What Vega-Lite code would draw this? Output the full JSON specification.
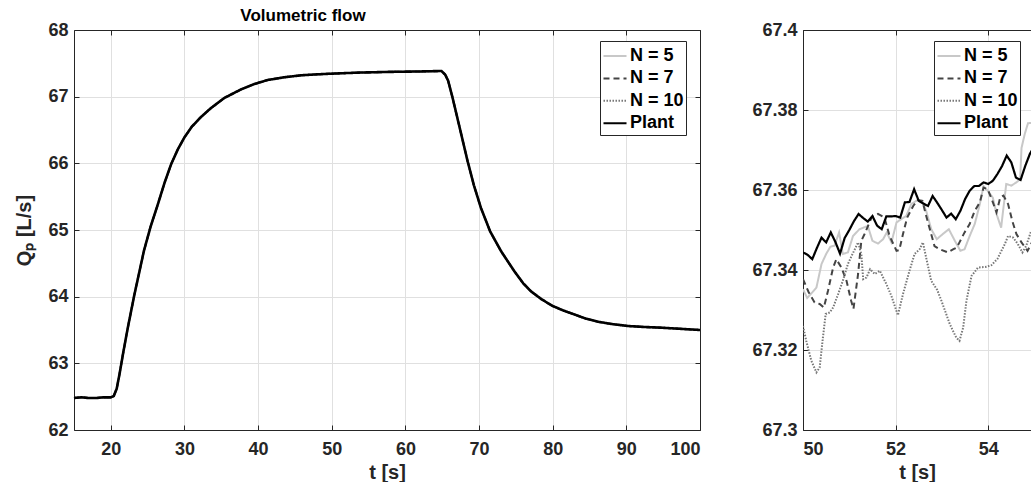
{
  "$schema": "https://vega.github.io/schema/vega-lite/v6.json",
  "background": "white",
  "padding": {"left": 14, "top": 7, "right": 0, "bottom": 0},
  "spacing": 45,
  "config": {
    "font": "Liberation Sans",
    "view": {"stroke": null},
    "axis": {
      "labelFont": "Liberation Sans", "labelFontSize": 18, "labelFontWeight": "bold", "labelColor": "#262626",
      "titleFont": "Liberation Sans", "titleFontSize": 20, "titleFontWeight": "bold", "titleColor": "#262626",
      "domainColor": "#262626", "domainWidth": 1, "tickColor": "#262626", "tickWidth": 1, "tickSize": -5,
      "gridColor": "#e0e0e0", "gridWidth": 1
    },
    "legend": {
      "symbolType": "stroke", "symbolSize": 530, "symbolStrokeWidth": 2, "padding": 2, "rowPadding": 0.4,
      "labelOffset": 2, "fillColor": "white", "strokeColor": "#262626", "labelFont": "Liberation Sans",
      "labelFontSize": 18, "labelFontWeight": "bold", "labelColor": "#000000", "cornerRadius": 0
    },
    "title": {"font": "Liberation Sans", "fontSize": 17, "fontWeight": "bold", "color": "#000000"}
  },
  "resolve": {"legend": {"color": "independent", "strokeDash": "independent"}},
  "datasets": {
    "full": [
      {"t": 15, "plant": 62.48, "n5": 62.48, "n7": 62.48, "n10": 62.48},
      {"t": 16, "plant": 62.49, "n5": 62.49, "n7": 62.49, "n10": 62.49},
      {"t": 17, "plant": 62.48, "n5": 62.48, "n7": 62.48, "n10": 62.48},
      {"t": 18, "plant": 62.48, "n5": 62.48, "n7": 62.48, "n10": 62.48},
      {"t": 19, "plant": 62.49, "n5": 62.49, "n7": 62.49, "n10": 62.49},
      {"t": 20, "plant": 62.49, "n5": 62.49, "n7": 62.49, "n10": 62.49},
      {"t": 20.4, "plant": 62.51, "n5": 62.51, "n7": 62.51, "n10": 62.51},
      {"t": 20.8, "plant": 62.62, "n5": 62.62, "n7": 62.62, "n10": 62.62},
      {"t": 21.2, "plant": 62.85, "n5": 62.85, "n7": 62.85, "n10": 62.85},
      {"t": 21.7, "plant": 63.17, "n5": 63.17, "n7": 63.17, "n10": 63.17},
      {"t": 22.3, "plant": 63.53, "n5": 63.53, "n7": 63.53, "n10": 63.53},
      {"t": 23.2, "plant": 64.03, "n5": 64.03, "n7": 64.03, "n10": 64.03},
      {"t": 24.5, "plant": 64.69, "n5": 64.69, "n7": 64.69, "n10": 64.69},
      {"t": 25.4, "plant": 65.05, "n5": 65.05, "n7": 65.05, "n10": 65.05},
      {"t": 26.4, "plant": 65.39, "n5": 65.39, "n7": 65.39, "n10": 65.39},
      {"t": 27.3, "plant": 65.71, "n5": 65.71, "n7": 65.71, "n10": 65.71},
      {"t": 28.2, "plant": 65.99, "n5": 65.99, "n7": 65.99, "n10": 65.99},
      {"t": 29.1, "plant": 66.21, "n5": 66.21, "n7": 66.21, "n10": 66.21},
      {"t": 30, "plant": 66.39, "n5": 66.39, "n7": 66.39, "n10": 66.39},
      {"t": 31, "plant": 66.55, "n5": 66.55, "n7": 66.55, "n10": 66.55},
      {"t": 32.2, "plant": 66.69, "n5": 66.69, "n7": 66.69, "n10": 66.69},
      {"t": 33.5, "plant": 66.82, "n5": 66.82, "n7": 66.82, "n10": 66.82},
      {"t": 35.4, "plant": 66.98, "n5": 66.98, "n7": 66.98, "n10": 66.98},
      {"t": 37.7, "plant": 67.11, "n5": 67.11, "n7": 67.11, "n10": 67.11},
      {"t": 39.5, "plant": 67.19, "n5": 67.19, "n7": 67.19, "n10": 67.19},
      {"t": 41.3, "plant": 67.25, "n5": 67.25, "n7": 67.25, "n10": 67.25},
      {"t": 43.5, "plant": 67.29, "n5": 67.29, "n7": 67.29, "n10": 67.29},
      {"t": 45.8, "plant": 67.32, "n5": 67.32, "n7": 67.32, "n10": 67.32},
      {"t": 48, "plant": 67.335, "n5": 67.335, "n7": 67.335, "n10": 67.335},
      {"t": 50, "plant": 67.345, "n5": 67.345, "n7": 67.345, "n10": 67.345},
      {"t": 52, "plant": 67.354, "n5": 67.354, "n7": 67.354, "n10": 67.354},
      {"t": 54, "plant": 67.362, "n5": 67.362, "n7": 67.362, "n10": 67.362},
      {"t": 56, "plant": 67.367, "n5": 67.367, "n7": 67.367, "n10": 67.367},
      {"t": 58, "plant": 67.372, "n5": 67.372, "n7": 67.372, "n10": 67.372},
      {"t": 60, "plant": 67.375, "n5": 67.375, "n7": 67.375, "n10": 67.375},
      {"t": 62, "plant": 67.378, "n5": 67.378, "n7": 67.378, "n10": 67.378},
      {"t": 63.5, "plant": 67.382, "n5": 67.382, "n7": 67.382, "n10": 67.382},
      {"t": 64.9, "plant": 67.385, "n5": 67.385, "n7": 67.385, "n10": 67.385},
      {"t": 65.4, "plant": 67.33, "n5": 67.33, "n7": 67.33, "n10": 67.33},
      {"t": 65.8, "plant": 67.24, "n5": 67.24, "n7": 67.24, "n10": 67.24},
      {"t": 66.4, "plant": 66.985, "n5": 66.985, "n7": 66.985, "n10": 66.985},
      {"t": 67.4, "plant": 66.52, "n5": 66.52, "n7": 66.52, "n10": 66.52},
      {"t": 68.45, "plant": 66.03, "n5": 66.03, "n7": 66.03, "n10": 66.03},
      {"t": 69.3, "plant": 65.67, "n5": 65.67, "n7": 65.67, "n10": 65.67},
      {"t": 70.26, "plant": 65.33, "n5": 65.33, "n7": 65.33, "n10": 65.33},
      {"t": 71.5, "plant": 64.98, "n5": 64.98, "n7": 64.98, "n10": 64.98},
      {"t": 73, "plant": 64.68, "n5": 64.68, "n7": 64.68, "n10": 64.68},
      {"t": 74.8, "plant": 64.38, "n5": 64.38, "n7": 64.38, "n10": 64.38},
      {"t": 76, "plant": 64.2, "n5": 64.2, "n7": 64.2, "n10": 64.2},
      {"t": 77.05, "plant": 64.08, "n5": 64.08, "n7": 64.08, "n10": 64.08},
      {"t": 78.5, "plant": 63.96, "n5": 63.96, "n7": 63.96, "n10": 63.96},
      {"t": 80, "plant": 63.86, "n5": 63.86, "n7": 63.86, "n10": 63.86},
      {"t": 81.5, "plant": 63.79, "n5": 63.79, "n7": 63.79, "n10": 63.79},
      {"t": 82.9, "plant": 63.735, "n5": 63.735, "n7": 63.735, "n10": 63.735},
      {"t": 84.5, "plant": 63.67, "n5": 63.67, "n7": 63.67, "n10": 63.67},
      {"t": 86.1, "plant": 63.625, "n5": 63.625, "n7": 63.625, "n10": 63.625},
      {"t": 88, "plant": 63.59, "n5": 63.59, "n7": 63.59, "n10": 63.59},
      {"t": 90.2, "plant": 63.56, "n5": 63.56, "n7": 63.56, "n10": 63.56},
      {"t": 92.5, "plant": 63.545, "n5": 63.545, "n7": 63.545, "n10": 63.545},
      {"t": 94.7, "plant": 63.535, "n5": 63.535, "n7": 63.535, "n10": 63.535},
      {"t": 97, "plant": 63.52, "n5": 63.52, "n7": 63.52, "n10": 63.52},
      {"t": 100, "plant": 63.5, "n5": 63.5, "n7": 63.5, "n10": 63.5}
    ],
    "zoom": [
      {"series": "plant", "t": 50.0, "Q": 67.3444}, {"series": "plant", "t": 50.1, "Q": 67.3438},
      {"series": "plant", "t": 50.2, "Q": 67.3427}, {"series": "plant", "t": 50.3, "Q": 67.3455},
      {"series": "plant", "t": 50.4, "Q": 67.3481}, {"series": "plant", "t": 50.5, "Q": 67.3469},
      {"series": "plant", "t": 50.6, "Q": 67.3494}, {"series": "plant", "t": 50.7, "Q": 67.347},
      {"series": "plant", "t": 50.8, "Q": 67.3441}, {"series": "plant", "t": 50.9, "Q": 67.348},
      {"series": "plant", "t": 51.0, "Q": 67.35}, {"series": "plant", "t": 51.1, "Q": 67.3522},
      {"series": "plant", "t": 51.2, "Q": 67.354}, {"series": "plant", "t": 51.3, "Q": 67.353},
      {"series": "plant", "t": 51.4, "Q": 67.3521}, {"series": "plant", "t": 51.5, "Q": 67.3535},
      {"series": "plant", "t": 51.6, "Q": 67.3511}, {"series": "plant", "t": 51.7, "Q": 67.3502},
      {"series": "plant", "t": 51.8, "Q": 67.3534}, {"series": "plant", "t": 51.9, "Q": 67.3534},
      {"series": "plant", "t": 52.0, "Q": 67.3535}, {"series": "plant", "t": 52.1, "Q": 67.3531},
      {"series": "plant", "t": 52.2, "Q": 67.3569}, {"series": "plant", "t": 52.3, "Q": 67.357},
      {"series": "plant", "t": 52.4, "Q": 67.3602}, {"series": "plant", "t": 52.5, "Q": 67.3573},
      {"series": "plant", "t": 52.6, "Q": 67.3566}, {"series": "plant", "t": 52.7, "Q": 67.356},
      {"series": "plant", "t": 52.8, "Q": 67.3585}, {"series": "plant", "t": 52.9, "Q": 67.3568},
      {"series": "plant", "t": 53.0, "Q": 67.355}, {"series": "plant", "t": 53.1, "Q": 67.3531},
      {"series": "plant", "t": 53.2, "Q": 67.3541}, {"series": "plant", "t": 53.3, "Q": 67.3527},
      {"series": "plant", "t": 53.4, "Q": 67.3548}, {"series": "plant", "t": 53.5, "Q": 67.3577},
      {"series": "plant", "t": 53.6, "Q": 67.3598}, {"series": "plant", "t": 53.7, "Q": 67.361},
      {"series": "plant", "t": 53.8, "Q": 67.361}, {"series": "plant", "t": 53.9, "Q": 67.3619},
      {"series": "plant", "t": 54.0, "Q": 67.3615}, {"series": "plant", "t": 54.1, "Q": 67.3623},
      {"series": "plant", "t": 54.2, "Q": 67.364}, {"series": "plant", "t": 54.3, "Q": 67.366},
      {"series": "plant", "t": 54.4, "Q": 67.3686}, {"series": "plant", "t": 54.5, "Q": 67.3669},
      {"series": "plant", "t": 54.6, "Q": 67.3631}, {"series": "plant", "t": 54.7, "Q": 67.3625},
      {"series": "plant", "t": 54.8, "Q": 67.366}, {"series": "plant", "t": 54.9, "Q": 67.369},
      {"series": "plant", "t": 54.95, "Q": 67.37},

      {"series": "n5", "t": 50.0, "Q": 67.3352}, {"series": "n5", "t": 50.09, "Q": 67.333},
      {"series": "n5", "t": 50.2, "Q": 67.3344}, {"series": "n5", "t": 50.29, "Q": 67.3356},
      {"series": "n5", "t": 50.4, "Q": 67.3415}, {"series": "n5", "t": 50.5, "Q": 67.344},
      {"series": "n5", "t": 50.59, "Q": 67.3458}, {"series": "n5", "t": 50.68, "Q": 67.3461},
      {"series": "n5", "t": 50.78, "Q": 67.3494}, {"series": "n5", "t": 50.86, "Q": 67.344},
      {"series": "n5", "t": 50.97, "Q": 67.3444}, {"series": "n5", "t": 51.08, "Q": 67.3485},
      {"series": "n5", "t": 51.22, "Q": 67.3502}, {"series": "n5", "t": 51.4, "Q": 67.351},
      {"series": "n5", "t": 51.5, "Q": 67.3473}, {"series": "n5", "t": 51.62, "Q": 67.3466},
      {"series": "n5", "t": 51.73, "Q": 67.3477}, {"series": "n5", "t": 51.81, "Q": 67.3494},
      {"series": "n5", "t": 51.91, "Q": 67.3469}, {"series": "n5", "t": 52.02, "Q": 67.3519},
      {"series": "n5", "t": 52.12, "Q": 67.3527}, {"series": "n5", "t": 52.23, "Q": 67.3535},
      {"series": "n5", "t": 52.34, "Q": 67.3565}, {"series": "n5", "t": 52.45, "Q": 67.3573},
      {"series": "n5", "t": 52.56, "Q": 67.3573}, {"series": "n5", "t": 52.66, "Q": 67.3548},
      {"series": "n5", "t": 52.77, "Q": 67.3502}, {"series": "n5", "t": 52.89, "Q": 67.3477},
      {"series": "n5", "t": 53.02, "Q": 67.349}, {"series": "n5", "t": 53.15, "Q": 67.3502},
      {"series": "n5", "t": 53.28, "Q": 67.3473}, {"series": "n5", "t": 53.4, "Q": 67.3448},
      {"series": "n5", "t": 53.49, "Q": 67.3452}, {"series": "n5", "t": 53.6, "Q": 67.3485},
      {"series": "n5", "t": 53.71, "Q": 67.3515}, {"series": "n5", "t": 53.82, "Q": 67.3565},
      {"series": "n5", "t": 53.9, "Q": 67.361}, {"series": "n5", "t": 53.99, "Q": 67.3598},
      {"series": "n5", "t": 54.1, "Q": 67.3581}, {"series": "n5", "t": 54.18, "Q": 67.354},
      {"series": "n5", "t": 54.28, "Q": 67.3506}, {"series": "n5", "t": 54.39, "Q": 67.3615},
      {"series": "n5", "t": 54.5, "Q": 67.3611}, {"series": "n5", "t": 54.61, "Q": 67.3619},
      {"series": "n5", "t": 54.69, "Q": 67.3627}, {"series": "n5", "t": 54.72, "Q": 67.3705},
      {"series": "n5", "t": 54.79, "Q": 67.374}, {"series": "n5", "t": 54.86, "Q": 67.3767},
      {"series": "n5", "t": 54.95, "Q": 67.3768},

      {"series": "n7", "t": 50.0, "Q": 67.3377}, {"series": "n7", "t": 50.12, "Q": 67.3345},
      {"series": "n7", "t": 50.25, "Q": 67.3319}, {"series": "n7", "t": 50.36, "Q": 67.3315},
      {"series": "n7", "t": 50.45, "Q": 67.3306}, {"series": "n7", "t": 50.54, "Q": 67.3348},
      {"series": "n7", "t": 50.65, "Q": 67.3406}, {"series": "n7", "t": 50.72, "Q": 67.3427},
      {"series": "n7", "t": 50.83, "Q": 67.3406}, {"series": "n7", "t": 50.94, "Q": 67.3373},
      {"series": "n7", "t": 51.04, "Q": 67.3323}, {"series": "n7", "t": 51.09, "Q": 67.3303},
      {"series": "n7", "t": 51.19, "Q": 67.339}, {"series": "n7", "t": 51.26, "Q": 67.3473},
      {"series": "n7", "t": 51.33, "Q": 67.349}, {"series": "n7", "t": 51.48, "Q": 67.3531},
      {"series": "n7", "t": 51.62, "Q": 67.354}, {"series": "n7", "t": 51.76, "Q": 67.3531},
      {"series": "n7", "t": 51.87, "Q": 67.3485}, {"series": "n7", "t": 52.02, "Q": 67.3448},
      {"series": "n7", "t": 52.08, "Q": 67.345}, {"series": "n7", "t": 52.16, "Q": 67.349},
      {"series": "n7", "t": 52.25, "Q": 67.3531}, {"series": "n7", "t": 52.38, "Q": 67.356},
      {"series": "n7", "t": 52.48, "Q": 67.3575}, {"series": "n7", "t": 52.58, "Q": 67.3573},
      {"series": "n7", "t": 52.65, "Q": 67.354}, {"series": "n7", "t": 52.74, "Q": 67.3502},
      {"series": "n7", "t": 52.84, "Q": 67.346}, {"series": "n7", "t": 52.95, "Q": 67.3452},
      {"series": "n7", "t": 53.13, "Q": 67.3444}, {"series": "n7", "t": 53.25, "Q": 67.3452},
      {"series": "n7", "t": 53.32, "Q": 67.3456}, {"series": "n7", "t": 53.38, "Q": 67.3469},
      {"series": "n7", "t": 53.49, "Q": 67.3494}, {"series": "n7", "t": 53.6, "Q": 67.3515},
      {"series": "n7", "t": 53.71, "Q": 67.3548}, {"series": "n7", "t": 53.82, "Q": 67.3569},
      {"series": "n7", "t": 53.9, "Q": 67.3606}, {"series": "n7", "t": 53.99, "Q": 67.3602},
      {"series": "n7", "t": 54.09, "Q": 67.3573}, {"series": "n7", "t": 54.18, "Q": 67.3544},
      {"series": "n7", "t": 54.26, "Q": 67.3581}, {"series": "n7", "t": 54.33, "Q": 67.3586},
      {"series": "n7", "t": 54.43, "Q": 67.3565}, {"series": "n7", "t": 54.52, "Q": 67.3523},
      {"series": "n7", "t": 54.61, "Q": 67.349}, {"series": "n7", "t": 54.72, "Q": 67.3469},
      {"series": "n7", "t": 54.85, "Q": 67.3448}, {"series": "n7", "t": 54.95, "Q": 67.347},

      {"series": "n10", "t": 50.0, "Q": 67.326}, {"series": "n10", "t": 50.07, "Q": 67.3223},
      {"series": "n10", "t": 50.18, "Q": 67.3173}, {"series": "n10", "t": 50.29, "Q": 67.3144},
      {"series": "n10", "t": 50.36, "Q": 67.3156}, {"series": "n10", "t": 50.43, "Q": 67.3231},
      {"series": "n10", "t": 50.49, "Q": 67.329}, {"series": "n10", "t": 50.58, "Q": 67.3294},
      {"series": "n10", "t": 50.65, "Q": 67.3306}, {"series": "n10", "t": 50.76, "Q": 67.334},
      {"series": "n10", "t": 50.86, "Q": 67.3373}, {"series": "n10", "t": 50.97, "Q": 67.3415},
      {"series": "n10", "t": 51.07, "Q": 67.344}, {"series": "n10", "t": 51.19, "Q": 67.3469},
      {"series": "n10", "t": 51.26, "Q": 67.344}, {"series": "n10", "t": 51.3, "Q": 67.3377},
      {"series": "n10", "t": 51.37, "Q": 67.3381}, {"series": "n10", "t": 51.45, "Q": 67.3402},
      {"series": "n10", "t": 51.55, "Q": 67.339}, {"series": "n10", "t": 51.66, "Q": 67.3398},
      {"series": "n10", "t": 51.8, "Q": 67.3365}, {"series": "n10", "t": 51.91, "Q": 67.3335},
      {"series": "n10", "t": 52.05, "Q": 67.3287}, {"series": "n10", "t": 52.16, "Q": 67.334},
      {"series": "n10", "t": 52.3, "Q": 67.3398}, {"series": "n10", "t": 52.41, "Q": 67.344},
      {"series": "n10", "t": 52.52, "Q": 67.3452}, {"series": "n10", "t": 52.59, "Q": 67.3469},
      {"series": "n10", "t": 52.66, "Q": 67.3431}, {"series": "n10", "t": 52.77, "Q": 67.3373},
      {"series": "n10", "t": 52.9, "Q": 67.335}, {"series": "n10", "t": 53.0, "Q": 67.332},
      {"series": "n10", "t": 53.17, "Q": 67.3265}, {"series": "n10", "t": 53.31, "Q": 67.3231},
      {"series": "n10", "t": 53.38, "Q": 67.3223}, {"series": "n10", "t": 53.46, "Q": 67.3256},
      {"series": "n10", "t": 53.53, "Q": 67.3323}, {"series": "n10", "t": 53.64, "Q": 67.3385},
      {"series": "n10", "t": 53.78, "Q": 67.3406}, {"series": "n10", "t": 53.96, "Q": 67.3408},
      {"series": "n10", "t": 54.07, "Q": 67.3412}, {"series": "n10", "t": 54.2, "Q": 67.3428},
      {"series": "n10", "t": 54.36, "Q": 67.3465}, {"series": "n10", "t": 54.43, "Q": 67.3485},
      {"series": "n10", "t": 54.54, "Q": 67.3481}, {"series": "n10", "t": 54.64, "Q": 67.3465},
      {"series": "n10", "t": 54.74, "Q": 67.3444}, {"series": "n10", "t": 54.82, "Q": 67.346},
      {"series": "n10", "t": 54.93, "Q": 67.3498}
    ]
  },
  "hconcat": [
    {
      "width": 626,
      "height": 400,
      "title": {"text": "Volumetric flow", "dx": -84, "offset": -4},
      "data": {"name": "full"},
      "transform": [{"fold": ["n5", "n7", "n10", "plant"], "as": ["series", "Q"]}],
      "resolve": {"axis": {"x": "independent", "y": "independent"}},
      "layer": [
        {
          "transform": [{"filter": "datum.series != 'plant'"}],
          "mark": {"type": "line", "strokeWidth": 2},
          "encoding": {
            "x": {"field": "t", "type": "quantitative", "scale": {"domain": [15, 100], "nice": false, "zero": false},
                  "axis": {"orient": "bottom", "values": [20, 30, 40, 50, 60, 70, 80, 90, 100], "format": "d", "grid": true, "title": "t [s]", "labelPadding": 15, "titlePadding": 4}},
            "y": {"field": "Q", "type": "quantitative", "scale": {"domain": [62, 68], "nice": false, "zero": false},
                  "axis": {"orient": "left", "values": [62, 63, 64, 65, 66, 67, 68], "format": "d", "grid": true, "title": "Qₚ [L/s]", "labelPadding": 11, "titlePadding": 13}},
            "color": {"field": "series", "type": "nominal",
                      "scale": {"domain": ["n5", "n7", "n10", "plant"], "range": ["#c8c8c8", "#444444", "#777777", "#000000"]},
                      "legend": {"title": null, "orient": "none", "legendX": 526, "legendY": 11,
                                 "labelExpr": "datum.label == 'n5' ? 'N = 5' : datum.label == 'n7' ? 'N = 7' : datum.label == 'n10' ? 'N = 10' : 'Plant'"}},
            "strokeDash": {"field": "series", "type": "nominal",
                           "scale": {"domain": ["n5", "n7", "n10", "plant"], "range": [[1, 0], [6, 4], [1.5, 1.5], [1, 0]]},
                           "legend": {"title": null, "orient": "none", "legendX": 526, "legendY": 11,
                                      "labelExpr": "datum.label == 'n5' ? 'N = 5' : datum.label == 'n7' ? 'N = 7' : datum.label == 'n10' ? 'N = 10' : 'Plant'"}}
          }
        },
        {
          "transform": [{"filter": "datum.series == 'plant'"}],
          "mark": {"type": "line", "strokeWidth": 2.6},
          "encoding": {
            "x": {"field": "t", "type": "quantitative", "scale": {"domain": [15, 100], "nice": false, "zero": false},
                  "axis": {"orient": "top", "values": [20, 30, 40, 50, 60, 70, 80, 90, 100], "labels": false, "grid": false, "title": null}},
            "y": {"field": "Q", "type": "quantitative", "scale": {"domain": [62, 68], "nice": false, "zero": false},
                  "axis": {"orient": "right", "values": [62, 63, 64, 65, 66, 67, 68], "labels": false, "grid": false, "title": null}},
            "color": {"field": "series", "type": "nominal",
                      "scale": {"domain": ["n5", "n7", "n10", "plant"], "range": ["#c8c8c8", "#444444", "#777777", "#000000"]},
                      "legend": {"title": null, "orient": "none", "legendX": 526, "legendY": 11,
                                 "labelExpr": "datum.label == 'n5' ? 'N = 5' : datum.label == 'n7' ? 'N = 7' : datum.label == 'n10' ? 'N = 10' : 'Plant'"}},
            "strokeDash": {"field": "series", "type": "nominal",
                           "scale": {"domain": ["n5", "n7", "n10", "plant"], "range": [[1, 0], [6, 4], [1.5, 1.5], [1, 0]]},
                           "legend": {"title": null, "orient": "none", "legendX": 526, "legendY": 11,
                                      "labelExpr": "datum.label == 'n5' ? 'N = 5' : datum.label == 'n7' ? 'N = 7' : datum.label == 'n10' ? 'N = 10' : 'Plant'"}}
          }
        }
      ]
    },
    {
      "width": 228,
      "height": 400,
      "title": {"text": " ", "offset": -4},
      "data": {"name": "zoom"},
      "resolve": {"axis": {"x": "independent", "y": "independent"}},
      "layer": [
        {
          "transform": [{"filter": "datum.series != 'plant'"}],
          "mark": {"type": "line", "strokeWidth": 2, "clip": true},
          "encoding": {
            "x": {"field": "t", "type": "quantitative", "scale": {"domain": [50, 54.925], "nice": false, "zero": false},
                  "axis": {"orient": "bottom", "values": [50, 52, 54], "format": "d", "grid": true, "title": "t [s]", "labelPadding": 15, "titlePadding": 4}},
            "y": {"field": "Q", "type": "quantitative", "scale": {"domain": [67.3, 67.4], "nice": false, "zero": false},
                  "axis": {"orient": "left", "values": [67.3, 67.32, 67.34, 67.36, 67.38, 67.4], "format": ".2~f", "grid": true, "title": null, "labelPadding": 11}},
            "color": {"field": "series", "type": "nominal",
                      "scale": {"domain": ["n5", "n7", "n10", "plant"], "range": ["#c8c8c8", "#444444", "#777777", "#000000"]},
                      "legend": {"title": null, "orient": "none", "legendX": 131, "legendY": 11,
                                 "labelExpr": "datum.label == 'n5' ? 'N = 5' : datum.label == 'n7' ? 'N = 7' : datum.label == 'n10' ? 'N = 10' : 'Plant'"}},
            "strokeDash": {"field": "series", "type": "nominal",
                           "scale": {"domain": ["n5", "n7", "n10", "plant"], "range": [[1, 0], [6, 4], [1.5, 1.5], [1, 0]]},
                           "legend": {"title": null, "orient": "none", "legendX": 131, "legendY": 11,
                                      "labelExpr": "datum.label == 'n5' ? 'N = 5' : datum.label == 'n7' ? 'N = 7' : datum.label == 'n10' ? 'N = 10' : 'Plant'"}}
          }
        },
        {
          "transform": [{"filter": "datum.series == 'plant'"}],
          "mark": {"type": "line", "strokeWidth": 2.2, "clip": true},
          "encoding": {
            "x": {"field": "t", "type": "quantitative", "scale": {"domain": [50, 54.925], "nice": false, "zero": false},
                  "axis": {"orient": "top", "values": [50, 52, 54], "labels": false, "grid": false, "title": null}},
            "y": {"field": "Q", "type": "quantitative", "scale": {"domain": [67.3, 67.4], "nice": false, "zero": false},
                  "axis": null},
            "color": {"field": "series", "type": "nominal",
                      "scale": {"domain": ["n5", "n7", "n10", "plant"], "range": ["#c8c8c8", "#444444", "#777777", "#000000"]},
                      "legend": {"title": null, "orient": "none", "legendX": 131, "legendY": 11,
                                 "labelExpr": "datum.label == 'n5' ? 'N = 5' : datum.label == 'n7' ? 'N = 7' : datum.label == 'n10' ? 'N = 10' : 'Plant'"}},
            "strokeDash": {"field": "series", "type": "nominal",
                           "scale": {"domain": ["n5", "n7", "n10", "plant"], "range": [[1, 0], [6, 4], [1.5, 1.5], [1, 0]]},
                           "legend": {"title": null, "orient": "none", "legendX": 131, "legendY": 11,
                                      "labelExpr": "datum.label == 'n5' ? 'N = 5' : datum.label == 'n7' ? 'N = 7' : datum.label == 'n10' ? 'N = 10' : 'Plant'"}}
          }
        }
      ]
    }
  ]
}
